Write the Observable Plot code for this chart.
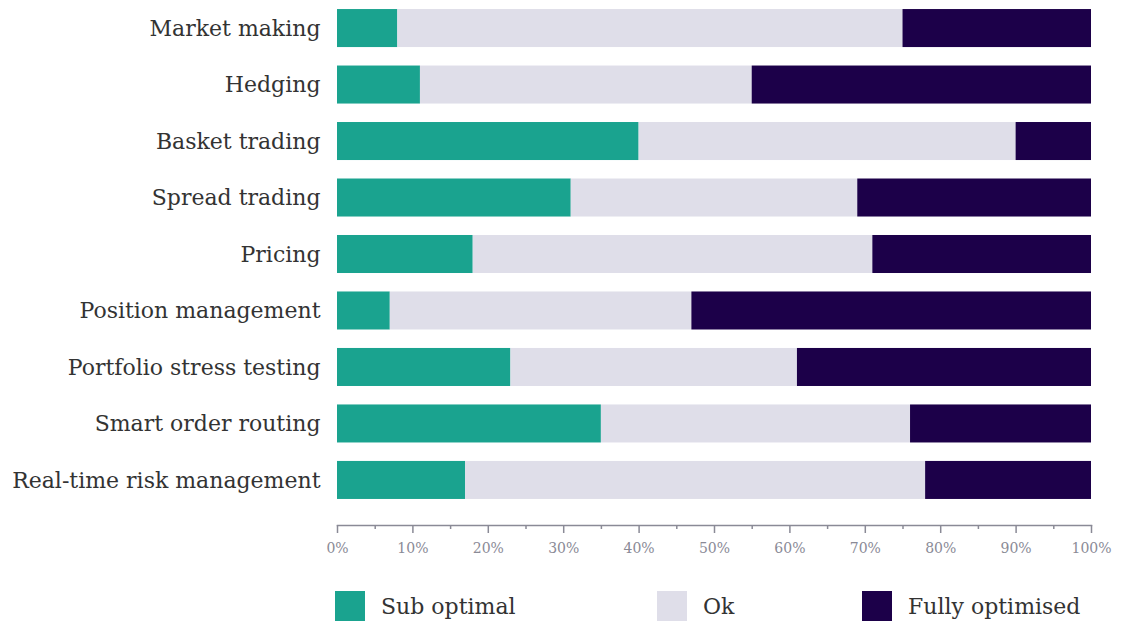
<!DOCTYPE html>
<html>
<head>
<meta charset="utf-8">
<script src="https://cdn.jsdelivr.net/npm/d3@7"></script>
<script src="https://cdn.jsdelivr.net/npm/@observablehq/plot@0.6"></script>
<style>
  body { margin: 0; background: #fff; width: 1128px; height: 624px; overflow: hidden; font-family: "DejaVu Serif", serif; }
  #chart svg { display: block; }
  #legend { position: relative; height: 49px; margin-top: 16px; }
  .item { position: absolute; top: 0; display: flex; align-items: center; height: 30px; font-size: 22px; color: #333; }
  .sw { width: 30px; height: 30px; margin-right: 16px; }
</style>
</head>
<body>
<div id="chart"></div>
<div id="legend"></div>
<script>
const categories = ["Market making","Hedging","Basket trading","Spread trading","Pricing","Position management","Portfolio stress testing","Smart order routing","Real-time risk management"];
const seriesNames = ["Sub optimal","Ok","Fully optimised"];
const subOptimal = [8, 11, 40, 31, 18, 7, 23, 35, 17];
const ok = [67, 44, 50, 38, 53, 40, 38, 41, 61];
const fullyOptimised = [25, 45, 10, 31, 29, 53, 39, 24, 22];
const colors = ["#1aa38f", "#dfdee9", "#1c0049"];
const majorTicks = [0,10,20,30,40,50,60,70,80,90,100];
const minorTicks = [5,15,25,35,45,55,65,75,85,95];

const seriesValues = [subOptimal, ok, fullyOptimised];
const data = [];
seriesNames.forEach((s, si) => categories.forEach((c, ci) => data.push({category: c, series: s, value: seriesValues[si][ci]})));

const chart = Plot.plot({
  width: 1128,
  height: 575,
  marginLeft: 337,
  marginRight: 37,
  marginTop: 0,
  marginBottom: 50,
  insetBottom: 17,
  style: {fontFamily: "DejaVu Serif, serif", background: "#fff"},
  x: {domain: [0, 100], axis: null},
  y: {domain: categories, paddingInner: 0.327, paddingOuter: 0.16, round: false, axis: null},
  color: {domain: seriesNames, range: colors},
  marks: [
    Plot.barX(data, Plot.stackX({y: "category", x: "value", fill: "series", order: seriesNames})),
    Plot.axisY({tickSize: 0, tickPadding: 17, fontSize: 22, fill: "#333", label: null}),
    Plot.frame({anchor: "bottom", stroke: "#8a8a96", strokeWidth: 1.5}),
    Plot.axisX({ticks: majorTicks, tickSize: 8, tickPadding: 10, tickFormat: d => d + "%", fontSize: 14, stroke: "#8a8a96", fill: "#8a8a96", strokeWidth: 1.5, label: null}),
    Plot.axisX({ticks: minorTicks, tickSize: 4, tickFormat: null, text: null, stroke: "#8a8a96", strokeWidth: 1.5, label: null})
  ]
});
document.getElementById("chart").append(chart);

const legend = document.getElementById("legend");
const lefts = [335, 657, 862];
seriesNames.forEach((s, i) => {
  const item = document.createElement("div");
  item.className = "item";
  item.style.left = lefts[i] + "px";
  const sw = document.createElement("div");
  sw.className = "sw";
  sw.style.background = colors[i];
  const t = document.createElement("span");
  t.textContent = s;
  item.append(sw, t);
  legend.append(item);
});
</script>
</body>
</html>
